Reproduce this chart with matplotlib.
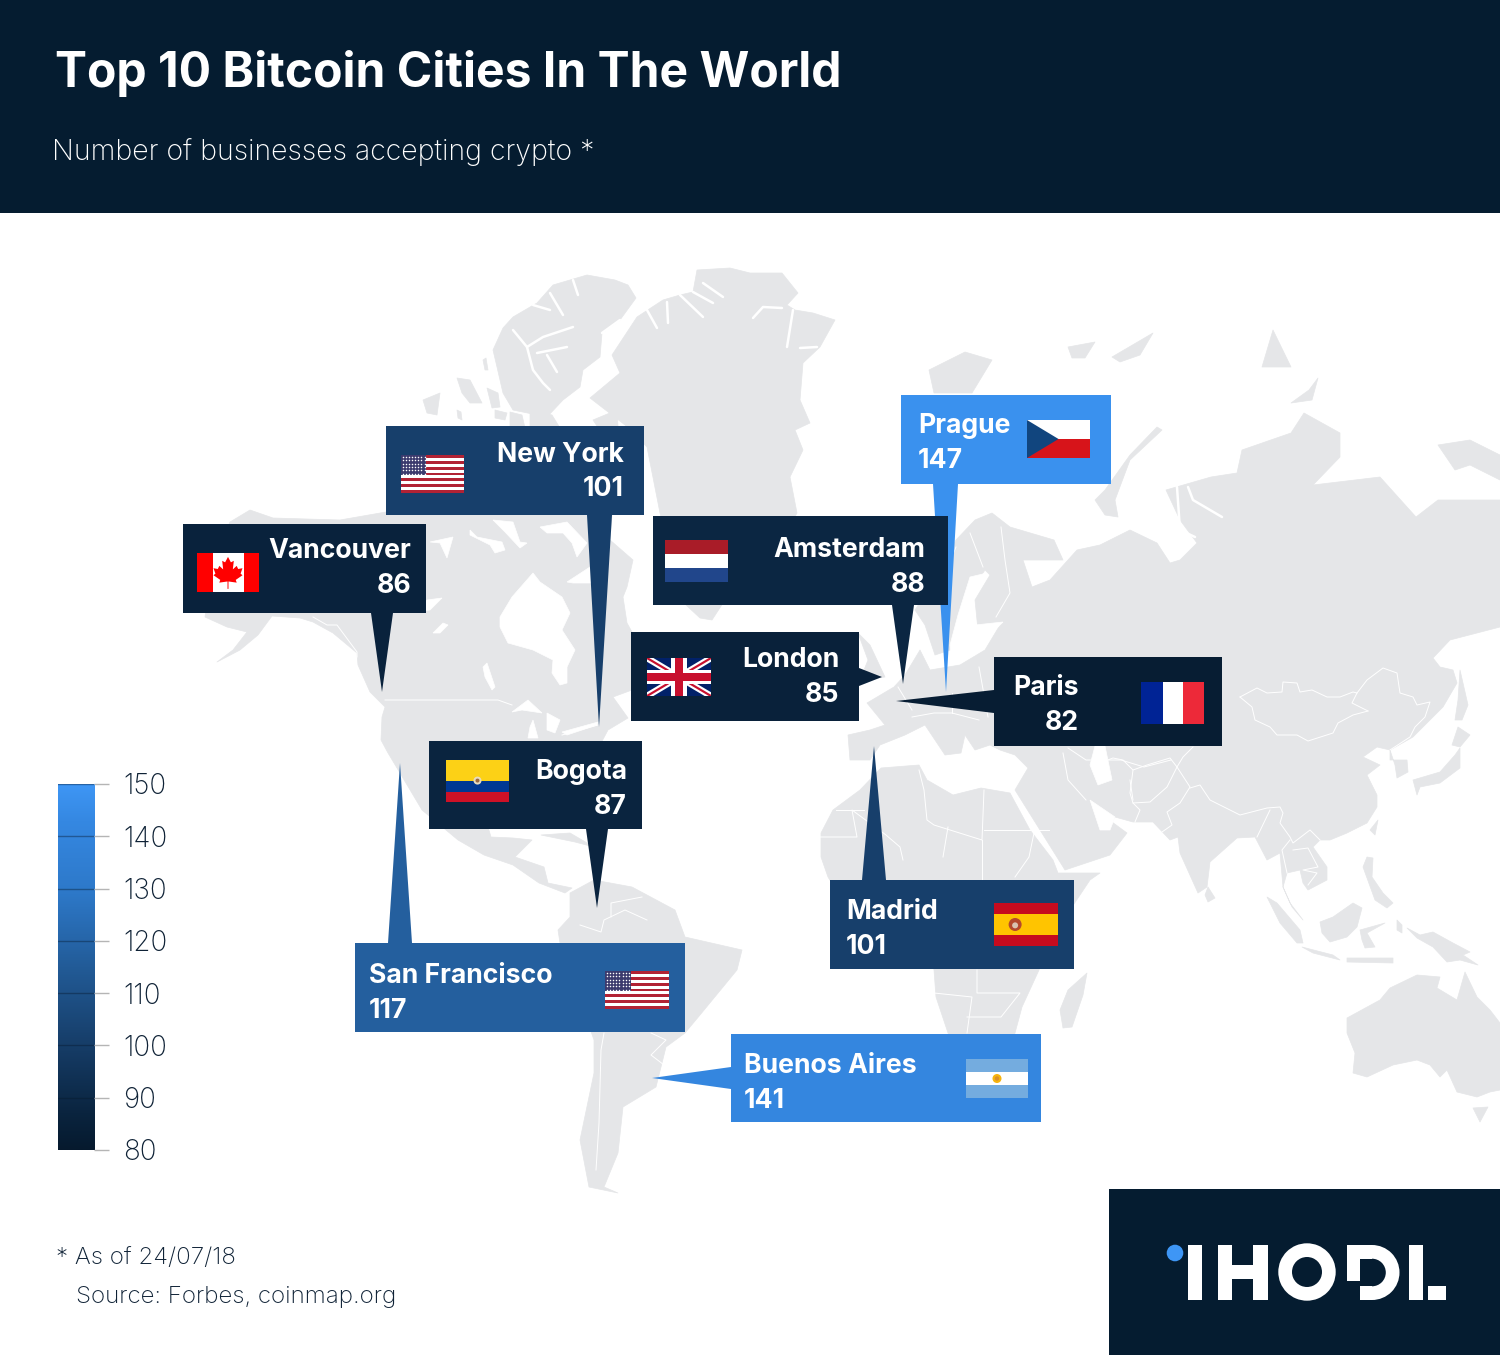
import matplotlib

matplotlib.use("Agg")
import matplotlib.pyplot as plt
import numpy as np
from matplotlib.colors import LinearSegmentedColormap
from matplotlib.patches import Circle, Polygon, Rectangle, Wedge

plt.rcParams["font.family"] = ["Inter", "DejaVu Sans"]

# chart values
cities = ["Prague", "Vancouver", "New York", "Amsterdam", "London", "Paris", "Bogota", "San Francisco", "Madrid", "Buenos Aires"]
businesses = [147, 86, 101, 88, 85, 82, 87, 117, 101, 141]
scale_ticks = [80, 90, 100, 110, 120, 130, 140, 150]

# callout layout in image pixels: box (x0, y0, x1, y1), tail, flag, text x + alignment
boxes = [(901, 395, 1111, 484), (183, 524, 426, 613), (386, 426, 644, 515), (653, 516, 948, 605), (631, 632, 859, 721),
         (994, 657, 1222, 746), (429, 741, 642, 829), (355, 943, 685, 1032), (830, 880, 1074, 969), (731, 1034, 1041, 1122)]
tails = [[(933, 484), (958, 484), (946, 692)], [(371, 613), (393, 613), (382, 692)], [(587, 515), (612, 515), (599, 727)],
         [(892, 605), (914, 605), (903, 684)], [(859, 668), (859, 686), (882, 677)], [(994, 690), (994, 713), (896, 701)],
         [(586, 829), (608, 829), (597, 908)], [(388, 943), (412, 943), (400, 763)], [(862, 880), (886, 880), (874, 746)],
         [(731, 1067), (731, 1089), (652, 1078)]]
flags = ["cz", "ca", "us", "nl", "uk", "fr", "co", "us", "es", "ar"]
flag_boxes = [(1027, 420, 1090, 458), (197, 553, 259, 592), (401, 455, 464, 493), (665, 540, 728, 582), (647, 658, 711, 696),
              (1141, 682, 1204, 724), (446, 760, 509, 802), (605, 971, 669, 1009), (994, 903, 1058, 946), (966, 1059, 1028, 1098)]
text_x = [918, 411, 624, 925, 839, 1079, 627, 369, 846, 744]
text_ha = ["left", "right", "right", "right", "right", "right", "right", "left", "left", "left"]
name_base = [433, 558, 462, 557, 667, 695, 779, 983, 919, 1073]
value_base = [468, 593, 496, 592, 702, 730, 814, 1018, 954, 1108]

# background map outlines, traced by eye in image pixels
north_america = [(230, 522), (250, 510), (273, 518), (340, 520), (386, 512), (500, 512), (612, 515), (610, 540), (633, 560), (627, 587),
                 (623, 597), (627, 623), (632, 632), (632, 690), (613, 697), (628, 718), (608, 730), (600, 745), (560, 770), (510, 770),
                 (480, 800), (491, 837), (513, 838), (532, 840), (515, 857), (544, 867), (548, 883), (572, 888), (565, 893), (539, 883),
                 (513, 865), (484, 855), (458, 840), (440, 825), (422, 810), (400, 773), (388, 753), (381, 740), (382, 717), (385, 707),
                 (370, 692), (358, 665), (357, 653), (333, 633), (313, 622), (300, 618), (272, 616), (258, 635), (240, 650), (217, 662),
                 (233, 650), (247, 632), (227, 627), (205, 617), (212, 560)]
greenland = [(697, 270), (730, 268), (750, 273), (782, 273), (798, 293), (787, 305), (795, 310), (813, 313), (835, 320), (820, 347),
             (803, 363), (800, 400), (810, 423), (795, 430), (803, 450), (790, 477), (797, 513), (770, 560), (725, 600), (712, 620),
             (700, 618), (686, 605), (672, 560), (660, 513), (647, 447), (625, 425), (590, 398), (620, 373), (612, 355), (637, 317),
             (663, 300), (680, 295), (693, 292)]
arctic_islands = [[(553, 285), (587, 275), (615, 280), (628, 285), (636, 298), (620, 320), (602, 333), (600, 357), (583, 370), (580, 387),
                   (563, 400), (547, 417), (513, 410), (503, 393), (497, 367), (493, 350), (503, 328), (513, 317), (537, 303)],
                  [(457, 378), (470, 380), (482, 403), (470, 403), (462, 393)], [(487, 388), (498, 393), (500, 407), (492, 408)],
                  [(423, 400), (440, 393), (437, 415), (427, 413)], [(495, 410), (507, 413), (505, 420), (495, 418)],
                  [(593, 420), (617, 410), (618, 426), (597, 426)], [(483, 360), (486, 358), (488, 370), (485, 370)],
                  [(510, 412), (522, 415), (525, 428), (510, 428)], [(530, 410), (552, 415), (560, 428), (530, 428)],
                  [(457, 410), (461, 412), (462, 420), (458, 418)], [(541, 835), (570, 833), (594, 847), (575, 842)]]
south_america = [(570, 893), (594, 880), (632, 887), (675, 910), (685, 937), (742, 950), (737, 970), (700, 1015), (685, 1033),
                 (666, 1047), (656, 1087), (623, 1107), (618, 1153), (604, 1187), (618, 1193), (589, 1187), (580, 1140),
                 (594, 1073), (594, 1040), (560, 943), (558, 930), (570, 917)]
africa = [(881, 768), (919, 765), (927, 780), (953, 795), (981, 788), (1010, 793), (1030, 830), (1053, 860), (1058, 873), (1100, 873),
          (1090, 880), (1060, 925), (1039, 970), (1022, 1007), (1015, 1033), (1000, 1090), (975, 1095), (948, 1033), (936, 997), (934, 970),
          (925, 925), (880, 915), (845, 905), (828, 877), (821, 857), (821, 833), (833, 810), (860, 790)]
madagascar = [(1087, 973), (1083, 995), (1072, 1027), (1063, 1028), (1060, 1010), (1068, 990)]
eurasia = [(992, 513), (1010, 527), (1054, 540), (1063, 560), (1023, 560), (1032, 587), (1050, 580), (1077, 550), (1100, 545),
           (1130, 530), (1157, 543), (1170, 563), (1180, 560), (1197, 543), (1180, 520), (1166, 490), (1211, 477), (1237, 473),
           (1242, 450), (1291, 433), (1304, 413), (1340, 433), (1340, 457), (1313, 485), (1380, 477), (1416, 517), (1438, 500),
           (1500, 500), (1500, 627), (1450, 640), (1433, 658), (1440, 667), (1453, 670), (1457, 683), (1443, 707), (1430, 720),
           (1413, 737), (1390, 750), (1390, 760), (1407, 760), (1408, 772), (1397, 778), (1395, 765), (1390, 750), (1377, 747),
           (1363, 757), (1380, 765), (1367, 775), (1377, 795), (1377, 807), (1367, 823), (1347, 833), (1330, 840), (1320, 840),
           (1313, 847), (1327, 867), (1327, 880), (1308, 890), (1303, 883), (1300, 870), (1287, 873), (1283, 887), (1290, 903),
           (1303, 920), (1292, 907), (1283, 887), (1280, 853), (1267, 860), (1255, 837), (1237, 838), (1210, 862), (1207, 887),
           (1198, 893), (1180, 853), (1178, 837), (1170, 840), (1153, 822), (1133, 822), (1115, 817), (1112, 822), (1127, 833),
           (1110, 855), (1065, 870), (1040, 830), (1015, 790), (1028, 768), (1015, 755), (1000, 750), (990, 745),
           (975, 750), (965, 735), (961, 753), (945, 755), (925, 725), (905, 735), (880, 745), (870, 760), (850, 760), (848, 735),
           (870, 730), (885, 725), (867, 703), (894, 687), (905, 675), (920, 650), (930, 670), (960, 665), (985, 650), (1000, 625),
           (978, 630), (975, 600), (990, 575), (985, 570), (965, 600), (958, 630), (950, 650), (935, 655), (925, 625), (915, 610),
           (935, 580), (956, 540), (975, 520)]
other_land = [[(858, 633), (870, 645), (885, 677), (860, 680), (868, 660)],
              [(929, 370), (965, 352), (992, 360), (972, 393), (934, 393)],
              [(1095, 500), (1105, 490), (1130, 455), (1157, 427), (1162, 430), (1130, 460), (1115, 500), (1118, 517), (1105, 515)],
              [(1068, 347), (1095, 342), (1085, 358), (1072, 358)], [(1112, 357), (1153, 333), (1140, 355), (1120, 362)],
              [(1273, 330), (1291, 367), (1262, 367)], [(1309, 390), (1318, 378), (1312, 400), (1291, 403)],
              [(1438, 445), (1470, 440), (1500, 455), (1500, 480), (1470, 465), (1455, 470)],
              [(1460, 670), (1468, 705), (1462, 720), (1455, 720), (1458, 700)], [(1458, 727), (1470, 735), (1460, 747), (1452, 745)],
              [(1460, 748), (1460, 768), (1440, 783), (1420, 787), (1417, 795), (1413, 780), (1440, 772), (1455, 755)],
              [(1378, 820), (1375, 835), (1370, 830)], [(1208, 887), (1215, 898), (1208, 902), (1205, 895)],
              [(1367, 857), (1373, 858), (1372, 877), (1383, 893), (1393, 903), (1387, 908), (1375, 900), (1363, 867)],
              [(1320, 922), (1333, 917), (1353, 903), (1362, 908), (1357, 927), (1347, 937), (1330, 942), (1322, 933)],
              [(1267, 897), (1277, 903), (1300, 930), (1303, 943), (1297, 943), (1280, 923)],
              [(1302, 947), (1333, 955), (1340, 960), (1313, 953)], [(1347, 958), (1393, 958), (1393, 963), (1347, 962)],
              [(1360, 930), (1385, 923), (1367, 933), (1375, 947), (1365, 948), (1362, 940)],
              [(1407, 928), (1420, 935), (1433, 932), (1453, 943), (1470, 952), (1463, 955), (1478, 965), (1460, 960), (1447, 962), (1433, 947), (1417, 938)],
              [(1397, 920), (1402, 925), (1402, 933), (1397, 930)],
              [(1347, 1018), (1380, 1000), (1390, 988), (1417, 975), (1440, 977), (1437, 988), (1457, 1000), (1465, 972), (1477, 997), (1490, 1010),
               (1500, 1023), (1500, 1090), (1490, 1092), (1477, 1097), (1457, 1092), (1447, 1070), (1440, 1077), (1430, 1065), (1417, 1060), (1393, 1065),
               (1367, 1077), (1353, 1073), (1355, 1053), (1347, 1033)],
              [(1473, 1108), (1488, 1107), (1480, 1122)]]
water = [[(500, 617), (512, 597), (533, 573), (540, 582), (562, 597), (570, 613), (562, 630), (575, 650), (567, 667), (567, 683), (560, 685),
          (552, 673), (553, 660), (533, 650), (508, 643), (500, 627)],
         [(430, 542), (453, 537), (447, 558), (440, 543)], [(470, 530), (477, 537), (502, 542), (505, 550), (495, 553), (490, 545), (470, 535)],
         [(493, 520), (513, 522), (520, 542), (527, 543), (520, 548), (505, 532)],
         [(540, 527), (567, 522), (587, 543), (577, 557), (572, 543), (563, 533), (547, 533)], [(567, 582), (590, 567), (593, 583), (573, 583)],
         [(413, 612), (427, 600), (442, 598), (430, 610)], [(433, 633), (443, 623), (448, 625), (440, 633)],
         [(483, 667), (487, 663), (495, 687), (492, 690), (485, 677)], [(512, 712), (528, 700), (542, 713), (522, 710)],
         [(533, 720), (538, 738), (528, 738), (530, 727)], [(547, 713), (560, 720), (555, 733), (547, 730)],
         [(562, 732), (598, 722), (597, 725), (567, 735)], [(987, 573), (970, 577), (958, 615), (950, 645), (952, 660), (975, 655), (985, 640),
          (1003, 622), (975, 625), (972, 600)],
         [(1095, 746), (1105, 746), (1112, 780), (1098, 785), (1090, 765)], [(1090, 800), (1115, 817), (1110, 830), (1100, 830)]]
channels = [[(513, 330), (527, 347), (533, 370), (543, 383), (550, 390)], [(527, 347), (543, 337), (573, 327)], [(537, 353), (567, 347)],
            [(547, 355), (557, 372)], [(602, 333), (620, 320)], [(550, 293), (563, 315)], [(573, 280), (578, 295)], [(533, 305), (550, 310)],
            [(647, 310), (657, 328)], [(667, 302), (668, 323)], [(680, 295), (703, 317)], [(693, 292), (713, 303)], [(703, 283), (723, 297)],
            [(753, 318), (763, 307), (782, 308)], [(793, 310), (787, 347)], [(800, 348), (817, 347)],
            [(1188, 487), (1193, 500), (1222, 517)], [(1177, 487), (1180, 530), (1195, 537)]]
borders = [[(385, 700), (498, 700), (512, 705)], [(313, 617), (327, 625), (337, 625), (357, 652), (357, 657)], [(562, 735), (598, 725)],
           [(1240, 697), (1257, 688), (1267, 693), (1282, 692), (1283, 682), (1297, 683), (1300, 692), (1312, 690), (1327, 697), (1340, 697), (1353, 692), (1357, 693), (1352, 703), (1368, 711)],
           [(1240, 697), (1252, 707), (1255, 720), (1270, 727), (1277, 735), (1297, 735), (1308, 741), (1333, 733), (1338, 723), (1353, 715), (1368, 711)],
           [(1357, 693), (1367, 680), (1383, 668), (1397, 673), (1400, 693), (1413, 697), (1417, 705), (1430, 702), (1425, 717), (1415, 727), (1410, 737), (1390, 750)],
           [(1100, 763), (1113, 758), (1123, 760), (1133, 770), (1147, 765), (1170, 758), (1177, 767), (1183, 757), (1193, 747)],
           [(1133, 770), (1130, 793), (1133, 803), (1150, 802), (1167, 787), (1177, 767)], [(1133, 803), (1140, 810), (1135, 822)],
           [(1177, 767), (1190, 787), (1180, 803), (1167, 812), (1172, 825), (1162, 832)],
           [(1190, 788), (1200, 785), (1210, 800), (1240, 815), (1267, 808), (1280, 807), (1283, 813), (1280, 823), (1290, 837), (1293, 843), (1310, 830), (1320, 840)],
           [(1257, 837), (1270, 810)], [(1290, 840), (1282, 850), (1287, 873)], [(1293, 850), (1308, 848), (1318, 867), (1303, 870), (1317, 873), (1308, 885)],
           [(919, 770), (924, 790), (927, 820), (934, 825), (982, 840), (984, 790)], [(984, 830), (1049, 830)], [(948, 827), (943, 857)], [(982, 840), (982, 880)],
           [(1034, 833), (1029, 857), (1015, 877)], [(819, 837), (857, 837), (852, 810), (886, 835), (900, 847), (903, 860)], [(836, 810), (864, 810)],
           [(934, 993), (972, 997), (967, 1033)], [(977, 970), (977, 993), (1020, 993), (1001, 1017), (967, 1017)],
           [(580, 925), (601, 932), (604, 920), (625, 910), (647, 920)], [(642, 897), (611, 903), (611, 917)],
           [(604, 1033), (601, 1050), (599, 1123), (596, 1170)], [(651, 1033), (666, 1040), (651, 1055), (668, 1068)],
           [(912, 717), (934, 713), (952, 713), (979, 720)], [(898, 687), (912, 710)], [(952, 693), (952, 713)], [(979, 667), (988, 717)],
           [(1001, 527), (1005, 560), (1010, 593), (996, 617)], [(956, 547), (934, 600)], [(970, 533), (983, 567)],
           [(1068, 748), (1086, 760), (1121, 760), (1144, 767), (1171, 760)], [(1063, 753), (1068, 780), (1086, 800)], [(1130, 780), (1133, 800)]]

# colours sampled from the legend
value_cmap = LinearSegmentedColormap.from_list(
    "value_scale",
    [(0.0, "#061a2e"), (0.1, "#0a243f"), (0.3, "#173f6b"), (0.5, "#225b97"), (0.7, "#2d78c8"), (0.9, "#3588e2"), (1.0, "#3e96f5")],
)
header_color = "#051c30"
land_color = "#e5e6e8"
text_color = "#0f2236"


def value_to_color(value):
    return value_cmap((value - 80) / 70)


def draw_flag(ax, code, box):
    x0, y0, x1, y1 = box
    w, h = x1 - x0, y1 - y0

    def rect(fx0, fy0, fx1, fy1, color, z=6):
        ax.add_patch(Rectangle((x0 + fx0 * w, y0 + fy0 * h), (fx1 - fx0) * w, (fy1 - fy0) * h, color=color, lw=0, zorder=z))

    if code == "us":
        for i in range(13):
            rect(0, i / 13, 1, (i + 1) / 13, "#b22234" if i % 2 == 0 else "white")
        rect(0, 0, 0.4, 7 / 13, "#3c3b6e")
        xs = x0 + (np.arange(8) + 0.5) / 8 * 0.4 * w
        ys = y0 + (np.arange(6) + 0.5) / 6 * 7 / 13 * h
        gx, gy = np.meshgrid(xs, ys)
        ax.scatter(gx, gy, s=1.2, color="white", linewidths=0, zorder=7)
    elif code == "ca":
        rect(0, 0, 1, 1, "white")
        rect(0, 0, 0.25, 1, "#ff0000")
        rect(0.75, 0, 1, 1, "#ff0000")
        leaf = [(0.5, 0.1), (0.56, 0.24), (0.62, 0.2), (0.6, 0.42), (0.68, 0.33), (0.71, 0.41), (0.8, 0.39), (0.76, 0.53), (0.8, 0.57),
                (0.66, 0.69), (0.68, 0.76), (0.51, 0.73), (0.51, 0.92), (0.49, 0.92), (0.49, 0.73), (0.32, 0.76), (0.34, 0.69), (0.2, 0.57),
                (0.24, 0.53), (0.2, 0.39), (0.29, 0.41), (0.32, 0.33), (0.4, 0.42), (0.38, 0.2), (0.44, 0.24)]
        ax.add_patch(Polygon([(x0 + (0.5 + 0.78 * (a - 0.5)) * w, y0 + b * h) for a, b in leaf], color="#ff0000", lw=0, zorder=7))
    elif code == "nl":
        rect(0, 0, 1, 1 / 3, "#a91c28")
        rect(0, 1 / 3, 1, 2 / 3, "white")
        rect(0, 2 / 3, 1, 1, "#21468b")
    elif code == "fr":
        rect(0, 0, 0.35, 1, "#002395")
        rect(0.35, 0, 0.66, 1, "white")
        rect(0.66, 0, 1, 1, "#ed2939")
    elif code == "cz":
        rect(0, 0, 1, 0.5, "white")
        rect(0, 0.5, 1, 1, "#d7141a")
        ax.add_patch(Polygon([(x0, y0), (x0 + 0.5 * w, y0 + 0.5 * h), (x0, y1)], color="#11457e", lw=0, zorder=7))
    elif code == "co":
        rect(0, 0, 1, 0.5, "#fcd116")
        rect(0, 0.5, 1, 0.75, "#003893")
        rect(0, 0.75, 1, 1, "#ce1126")
        ax.add_patch(Circle((x0 + 0.5 * w, y0 + 0.49 * h), 4, color="#e8dcc0", lw=0, zorder=7))
        ax.add_patch(Circle((x0 + 0.5 * w, y0 + 0.49 * h), 2, color="#9a6a40", lw=0, zorder=8))
    elif code == "es":
        rect(0, 0, 1, 0.25, "#c60b1e")
        rect(0, 0.25, 1, 0.75, "#ffc400")
        rect(0, 0.75, 1, 1, "#c60b1e")
        ax.add_patch(Circle((x0 + 0.33 * w, y0 + 0.5 * h), 6.5, color="#b5482c", lw=0, zorder=7))
        ax.add_patch(Circle((x0 + 0.33 * w, y0 + 0.52 * h), 3, color="#d9c2b0", lw=0, zorder=8))
    elif code == "ar":
        rect(0, 0, 1, 1 / 3, "#74acdf")
        rect(0, 1 / 3, 1, 2 / 3, "white")
        rect(0, 2 / 3, 1, 1, "#74acdf")
        ax.add_patch(Circle((x0 + 0.5 * w, y0 + 0.5 * h), 4.5, color="#f6b40e", lw=0, zorder=7))
        ax.add_patch(Circle((x0 + 0.5 * w, y0 + 0.5 * h), 2.2, color="#d9902a", lw=0, zorder=8))
    elif code == "uk":
        rect(0, 0, 1, 1, "#012169")
        clip = Rectangle((x0, y0), w, h, transform=ax.transData)
        for a, b, c, d, lw, color in [(x0, y0, x1, y1, 6.5, "white"), (x0, y1, x1, y0, 6.5, "white"),
                                      (x0, y0, x1, y1, 2.2, "#c8102e"), (x0, y1, x1, y0, 2.2, "#c8102e")]:
            line = ax.plot([a, c], [b, d], color=color, lw=lw * 0.72, zorder=7, solid_capstyle="butt")[0]
            line.set_clip_path(clip)
        rect(0.38, 0, 0.62, 1, "white", z=8)
        rect(0, 0.32, 1, 0.68, "white", z=8)
        rect(0.44, 0, 0.56, 1, "#c8102e", z=8)
        rect(0, 0.4, 1, 0.6, "#c8102e", z=8)


fig = plt.figure(figsize=(15, 13.55), dpi=100, facecolor="white")
ax = fig.add_axes([0, 0, 1, 1])
ax.set_xlim(0, 1500)
ax.set_ylim(1355, 0)
ax.axis("off")

# map background
for outline in [north_america, greenland, south_america, africa, madagascar, eurasia] + arctic_islands + other_land:
    ax.add_patch(Polygon(outline, closed=True, facecolor=land_color, edgecolor=land_color, lw=0.5, joinstyle="round", zorder=1))
for outline in water:
    ax.add_patch(Polygon(outline, closed=True, facecolor="white", edgecolor="white", lw=0.5, zorder=2))
for line in channels:
    xs, ys = zip(*line)
    ax.plot(xs, ys, color="white", lw=1.8, zorder=2, solid_capstyle="round")
for line in borders:
    xs, ys = zip(*line)
    ax.plot(xs, ys, color="white", lw=0.7, zorder=2)

# header and footer blocks
ax.add_patch(Rectangle((0, 0), 1500, 213, color=header_color, lw=0, zorder=3))
ax.add_patch(Rectangle((1109, 1189), 391, 166, color=header_color, lw=0, zorder=3))
ax.text(55, 87, "Top 10 Bitcoin Cities In The World", color="white", fontsize=34.6, fontweight="bold", va="baseline", ha="left", zorder=4)
ax.text(52, 160, "Number of businesses accepting crypto *", color="white", fontsize=20.5, fontweight="light", va="baseline", ha="left", zorder=4)
ax.text(56, 1264, "* As of 24/07/18", color=text_color, fontsize=17.4, fontweight="light", va="baseline", ha="left", zorder=4)
ax.text(76, 1303, "Source: Forbes, coinmap.org", color=text_color, fontsize=17.4, fontweight="light", va="baseline", ha="left", zorder=4)

# callouts, Prague first because its tail runs behind Amsterdam
for i, city in enumerate(cities):
    color = value_to_color(businesses[i])
    x0, y0, x1, y1 = boxes[i]
    base_z = 4 if city == "Prague" else 5
    ax.add_patch(Polygon(tails[i], closed=True, color=color, lw=0, zorder=base_z))
    ax.add_patch(Rectangle((x0, y0), x1 - x0, y1 - y0, color=color, lw=0, zorder=base_z))
    draw_flag(ax, flags[i], flag_boxes[i])
    ax.text(text_x[i], name_base[i], city, color="white", fontsize=19.2, fontweight="bold", ha=text_ha[i], va="baseline", zorder=9)
    ax.text(text_x[i], value_base[i], str(businesses[i]), color="white", fontsize=19.2, fontweight="bold", ha=text_ha[i], va="baseline", zorder=9)

# logo
logo_rects = [(1188, 1245, 1202, 1300), (1218, 1245, 1232, 1300), (1253, 1245, 1268, 1300), (1232, 1265, 1253, 1279),
              (1347, 1245, 1372, 1259), (1347, 1245, 1360, 1281), (1360, 1286, 1372, 1300), (1409, 1245, 1423, 1300),
              (1428, 1286, 1446, 1300)]
for a, b, c, d in logo_rects:
    ax.add_patch(Rectangle((a, b), c - a, d - b, color="white", lw=0, zorder=4))
ax.add_patch(Wedge((1307, 1272), 28.7, 0, 360, width=13.7, color="white", lw=0, zorder=4))
ax.add_patch(Wedge((1372, 1272.5), 27.5, -90, 90, width=13.7, color="white", lw=0, zorder=4))
ax.add_patch(Circle((1175, 1253), 8.3, color="#3e96f5", lw=0, zorder=4))

# legend scale
cax = fig.add_axes([58 / 1500, 1 - 1150 / 1355, 36 / 1500, 366 / 1355])
gradient = np.linspace(80, 150, 256).reshape(-1, 1)
cax.imshow(gradient, origin="lower", aspect="auto", cmap=value_cmap, vmin=80, vmax=150, extent=[0, 1, 80, 150])
for spine in cax.spines.values():
    spine.set_visible(False)
cax.set_xticks([])
cax.yaxis.tick_right()
cax.set_yticks(scale_ticks)
cax.set_yticklabels([str(t) for t in scale_ticks], fontweight="light")
cax.tick_params(axis="y", length=10.8, width=1, color="#b5b5b5", pad=10, labelsize=20, labelcolor=text_color)
for tick in scale_ticks:
    cax.axhline(tick, color="#06182b", alpha=0.4, lw=1)

fig.savefig("out.png", dpi=100, facecolor="white")
